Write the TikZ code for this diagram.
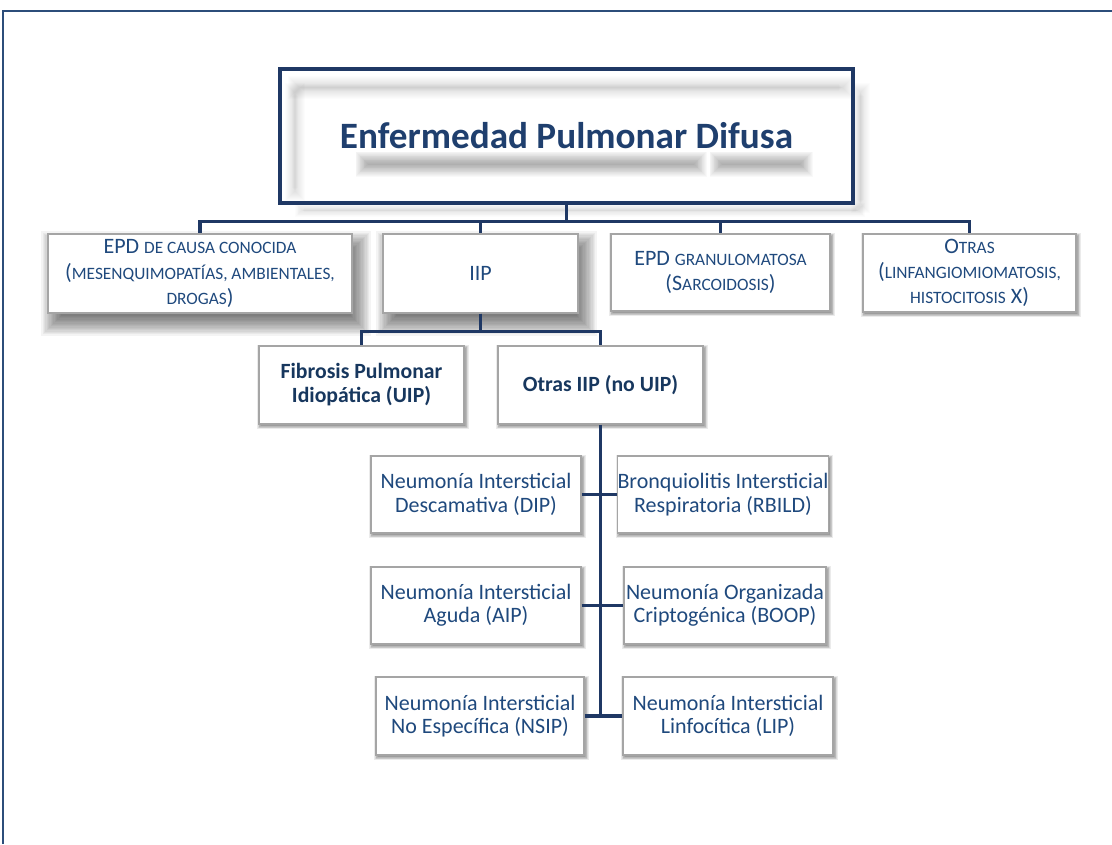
\documentclass[tikz,border=0pt]{standalone}
\usepackage{fontspec}
\setmainfont{Carlito}

\pgfdeclarelayer{background}
\pgfsetlayers{background,main}

\definecolor{navy}{RGB}{31,56,100}
\definecolor{framecol}{RGB}{44,77,122}
\definecolor{txtblue}{RGB}{31,73,125}
\definecolor{darkblue}{RGB}{23,55,94}
\definecolor{titleblue}{RGB}{31,63,110}
\definecolor{boxgray}{RGB}{165,165,165}

% reduced capitals for the small-caps words
\newcommand\fsc[1]{{\fontsize{13pt}{13pt}\selectfont #1}}

% soft-edged fill between two named corners:
% #1 colour, #2,#3 corners, #4 dx, #5 dy, #6 blur radius, #7 opacity per step, #8 steps
\newcommand\softrect[8]{%
  \begin{pgfonlayer}{background}
  \foreach \k in {1,...,#8}{
    \pgfmathsetmacro\shd{#6*(2*\k/#8-1)}
    \fill[#1, fill opacity=#7]
      ([shift={(#4-\shd,#5-\shd)}]#2) rectangle ([shift={(#4+\shd,#5+\shd)}]#3);
  }
  \end{pgfonlayer}}
\newcommand\nodeshadow[6]{\softrect{black}{#1.north west}{#1.south east}{#2}{#3}{#4}{#5}{#6}}

\tikzset{
  sz/.style 2 args={minimum width=#1*0.75pt, minimum height=#2*0.75pt},
  boxbase/.style={draw=boxgray, line width=1.1pt, fill=white, inner sep=0pt,
    align=center, text=txtblue, font=\fontsize{16.5pt}{17.5pt}\selectfont},
  toprow/.style={boxbase, font=\fontsize{16.5pt}{19pt}\selectfont},
  boldbox/.style={boxbase, text=darkblue, font=\fontsize{16.3pt}{18pt}\selectfont\bfseries},
  leafbox/.style={boxbase},
  link/.style={draw=navy, line width=2.6pt},
  frameline/.style={draw=framecol, line width=1.5pt},
}

\begin{document}
\begin{tikzpicture}[x=0.75pt, y=-0.75pt]
\useasboundingbox (0,0) rectangle (1112,844);

% page frame (top and left edges)
\draw[frameline] (3,844) -- (3,11) -- (1112,11);

% title
\node[draw=navy, line width=2.3pt, inner sep=0pt, text=titleblue,
  font=\fontsize{27.9pt}{30pt}\selectfont\bfseries, sz={573}{134}]
  (title) at (566.5,136) {Enfermedad Pulmonar Difusa};

% haze along the inner top and left of the title frame, and outside its right and bottom
\coordinate (hzT1) at (296,84);  \coordinate (hzT2) at (846,91);
\coordinate (hzL1) at (292,90);  \coordinate (hzL2) at (298,194);
\coordinate (hzR1) at (858,90);  \coordinate (hzR2) at (863,206);
\coordinate (hzB1) at (300,208); \coordinate (hzB2) at (860,212);
\softrect{black}{hzT1}{hzT2}{0}{0}{8}{0.011}{16}
\softrect{black}{hzL1}{hzL2}{0}{0}{7}{0.010}{14}
\softrect{black}{hzR1}{hzR2}{0}{0}{7}{0.010}{14}
\softrect{black}{hzB1}{hzB2}{0}{0}{5}{0.010}{12}

% blurred reflection of the title words
\coordinate (refA1) at (362,158);
\coordinate (refA2) at (700,170);
\coordinate (refB1) at (716,158);
\coordinate (refB2) at (806,170);
\softrect{black}{refA1}{refA2}{0}{0}{6.5}{0.022}{16}
\softrect{black}{refB1}{refB2}{0}{0}{6.5}{0.022}{16}

% first level
\node[toprow, sz={304}{79}] (b1) at (200,273.5)
  {EPD \fsc{DE CAUSA CONOCIDA}\\(\fsc{MESENQUIMOPATÍAS, AMBIENTALES,}\\\fsc{DROGAS})};
\node[toprow, sz={195}{79}] (iip) at (480.5,273.5) {IIP};
\node[toprow, sz={219}{77}] (b3) at (720.5,272.5)
  {EPD \fsc{GRANULOMATOSA}\\(S\fsc{ARCOIDOSIS})};
\node[toprow, sz={213}{78}] (b4) at (969.5,273)
  {O\fsc{TRAS}\\(\fsc{LINFANGIOMIOMATOSIS,}\\\fsc{HISTOCITOSIS} X)};

% second level
\node[boldbox, sz={205}{78}] (fib) at (361.5,385) {Fibrosis Pulmonar\\Idiopática (UIP)};
\node[boldbox, sz={205}{78}] (otras) at (600.5,385) {Otras IIP (no UIP)};

% third level
\node[leafbox, sz={210}{77}] (dip) at (476,494.5) {Neumonía Intersticial\\Descamativa (DIP)};
\node[leafbox, sz={210}{77}] (rbild) at (723,494.5) {Bronquiolitis Intersticial\\Respiratoria (RBILD)};
\node[leafbox, sz={210}{77}] (aip) at (476,605.5) {Neumonía Intersticial\\Aguda (AIP)};
\node[leafbox, sz={202}{77}] (boop) at (725,605.5) {Neumonía Organizada\\Criptogénica (BOOP)};
\node[leafbox, sz={208}{78}] (nsip) at (480,716) {Neumonía Intersticial\\No Específica (NSIP)};
\node[leafbox, sz={210}{78}] (lip) at (728,716) {Neumonía Intersticial\\Linfocítica (LIP)};

% shadows
\nodeshadow{b1}{6}{10}{12}{0.045}{18}
\nodeshadow{iip}{6}{10}{12}{0.045}{18}
\foreach \n in {b3,b4,fib,otras,dip,rbild,aip,boop,nsip,lip}{
  \nodeshadow{\n}{1.5}{2}{2.4}{0.08}{7}
}

% connectors
\draw[link] (title.south) -- ++(0,17) -| (b1.north);
\draw[link] (title.south) -- ++(0,17) -| (iip.north);
\draw[link] (title.south) -- ++(0,17) -| (b3.north);
\draw[link] (title.south) -- ++(0,17) -| (b4.north);

\draw[link] (iip.south) -- ++(0,18) -| (fib.north);
\draw[link] (iip.south) -- ++(0,18) -| (otras.north);

\coordinate (trunkend) at (otras.south |- nsip.east);
\draw[link] (otras.south) -- (trunkend);
\draw[link] (dip.east) -- (rbild.west);
\draw[link] (aip.east) -- (boop.west);
\draw[link] (nsip.east) -- (lip.west);
\end{tikzpicture}
\end{document}
